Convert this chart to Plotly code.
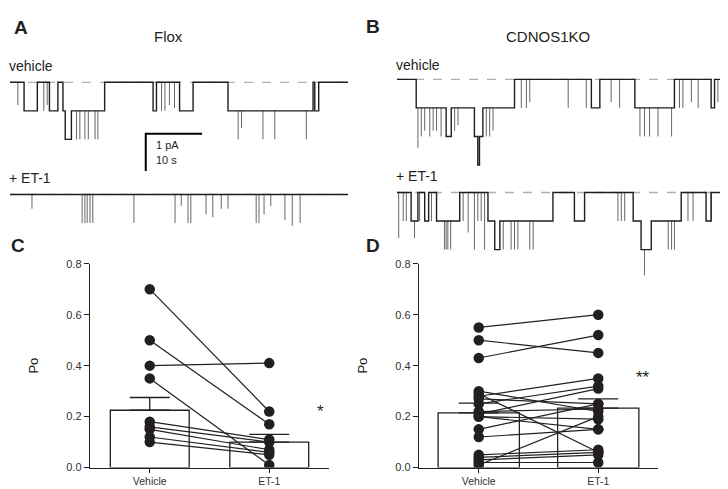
import plotly.graph_objects as go

W, H = 728, 489
FONT = "Liberation Sans, Arial, sans-serif"
INK = "#231f20"

# ---------------- single-channel traces (time in s, open-channel count n) ----------------
UNIT_PA = 0.77  # single-channel amplitude, pA

A_VEH_STEPS = [(0, 0), (2.5, 1), (4.85, 0), (7.0, 1), (8.5, 0), (9.4, 1), (9.8, 2), (10.9, 1),
               (16.8, 0), (25.4, 1), (26.0, 0), (30.1, 1), (32.5, 0), (38.7, 1), (53.8, 0),
               (54.1, 1), (54.8, 0), (60, 0)]
A_VEH_SPIKES = [(1.4, 0.8), (6.0, 1), (6.6, 0.8), (11.8, 2), (12.4, 2), (13.3, 2), (13.9, 2),
                (15.1, 2), (15.6, 2), (26.9, 1), (27.5, 1), (28.3, 0.8), (29.2, 0.9), (40.5, 2),
                (41.1, 1.6), (44.9, 2), (47.0, 2), (52.6, 2)]
A_ET1_STEPS = [(0, 0), (60, 0)]
A_ET1_SPIKES = [(3.9, 0.5), (12.8, 1), (13.3, 1), (13.7, 1), (14.2, 1), (14.7, 1), (22.0, 1),
                (29.3, 1), (30.4, 0.4), (31.6, 1), (32.1, 1), (34.8, 0.7), (36.0, 0.8),
                (37.5, 0.5), (38.7, 0.5), (43.7, 1), (44.2, 1), (45.1, 0.7), (46.3, 0.4),
                (48.8, 0.9), (50.1, 1.1), (51.5, 1)]

B_VEH_STEPS = [(0, 0), (3.4, 1), (8.7, 2), (9.6, 1), (13.7, 2), (14.3, 3), (14.6, 2), (15.2, 1),
               (20.8, 0), (34.4, 1), (35.9, 0), (42.1, 1), (49.1, 0), (55.6, 1), (56.2, 0),
               (60, 0)]
B_VEH_SPIKES = [(3.7, 2.4), (4.3, 2), (4.9, 1.8), (5.8, 2), (6.4, 1.8), (7.0, 1.8), (7.8, 2),
                (10.2, 1.8), (10.8, 1.6), (15.8, 2), (16.4, 2), (17.0, 1.8), (22.0, 1),
                (22.9, 1), (23.5, 0.8), (30.3, 1), (33.5, 1), (37.9, 0.8), (39.4, 1), (43.0, 2),
                (43.8, 2), (44.7, 2), (46.2, 2), (48.6, 2), (50.0, 1), (50.6, 1), (52.1, 0.8),
                (53.3, 1), (56.8, 0.8), (58.0, 0.6)]
B_ET1_STEPS = [(0, 0), (2.5, 1), (3.7, 0), (4.9, 1), (5.6, 0), (7.0, 1), (11.1, 0), (16.1, 1),
               (17.3, 2), (18.2, 1), (27.6, 0), (31.4, 1), (33.2, 0), (41.8, 1), (43.2, 2),
               (45.0, 1), (50.3, 0), (54.7, 1), (55.6, 0), (60, 0)]
B_ET1_SPIKES = [(0.3, 1.6), (1.1, 1), (1.65, 1), (3.1, 1.6), (4.0, 1), (6.1, 1), (8.4, 2),
                (8.7, 2), (9.0, 2), (9.5, 2), (10.5, 1), (11.7, 1), (12.6, 1.4), (13.7, 2),
                (14.3, 1), (14.9, 1), (15.5, 2), (18.8, 2), (20.2, 2), (20.8, 2), (21.4, 2),
                (23.5, 2), (24.1, 2), (32.0, 1), (32.6, 1), (39.1, 1), (39.7, 1), (40.3, 1),
                (43.8, 2.9), (48.0, 2), (48.6, 2), (49.1, 2), (51.5, 1), (52.4, 1), (55.6, 1)]

TRACE_END_S = 60
SCALE_T_S = 10
SCALE_I_PA = 1

# ---------------- open probability data ----------------
CATEGORIES = ["Vehicle", "ET-1"]
C_VEH = [0.70, 0.50, 0.40, 0.35, 0.18, 0.16, 0.15, 0.12, 0.10]
C_ET1 = [0.22, 0.17, 0.41, 0.01, 0.11, 0.10, 0.07, 0.06, 0.05]
C_MEAN = [0.225, 0.10]
C_SEM = [0.05, 0.03]

D_VEH = [0.55, 0.50, 0.43, 0.30, 0.28, 0.25, 0.21, 0.29, 0.27, 0.22, 0.20, 0.20, 0.15, 0.12,
         0.01, 0.05, 0.04, 0.03, 0.02]
D_ET1 = [0.60, 0.45, 0.52, 0.22, 0.35, 0.32, 0.31, 0.06, 0.25, 0.23, 0.19, 0.15, 0.25, 0.15,
         0.20, 0.07, 0.06, 0.05, 0.02]
D_MEAN = [0.215, 0.233]
D_SEM = [0.038, 0.037]

Y_TICKS = [0.0, 0.2, 0.4, 0.6, 0.8]


def pxx(x):
    return x / W


def pxy(y):
    return 1 - y / H


def level_at(steps, t):
    n = steps[0][1]
    for ts, ns in steps:
        if ts <= t:
            n = ns
        else:
            break
    return n


fig = go.Figure()


def add_recording(steps, spikes, offset, xa, ya):
    xs = [s[0] for s in steps]
    ys = [offset - s[1] * UNIT_PA for s in steps]
    # dashed closed-state reference line
    fig.add_trace(go.Scatter(x=[0, TRACE_END_S], y=[offset, offset], mode="lines",
                             line=dict(color="#b0b0b0", width=1.3, dash="dash"),
                             xaxis=xa, yaxis=ya, hoverinfo="skip"))
    sx, sy = [], []
    for t, d in spikes:
        base = offset - level_at(steps, t) * UNIT_PA
        sx += [t, t, None]
        sy += [base, offset - d * UNIT_PA, None]
    fig.add_trace(go.Scatter(x=sx, y=sy, mode="lines", line=dict(color="#555555", width=0.9),
                             xaxis=xa, yaxis=ya, hoverinfo="skip"))
    fig.add_trace(go.Scatter(x=xs, y=ys, mode="lines", line=dict(color="#1e1e1e", width=1.4,
                                                                 shape="hv"),
                             xaxis=xa, yaxis=ya, hoverinfo="skip"))


# panel geometry: vehicle baseline py 70 / 67, ET-1 baseline py 185 / 183, 38 px per pA
A_OFF = -(185 - 70) / 38
B_OFF = -(183 - 67) / 38
add_recording(A_VEH_STEPS, A_VEH_SPIKES, 0, "x", "y")
add_recording(A_ET1_STEPS, A_ET1_SPIKES, A_OFF, "x", "y")
add_recording(B_VEH_STEPS, B_VEH_SPIKES, 0, "x2", "y2")
add_recording(B_ET1_STEPS, B_ET1_SPIKES, B_OFF, "x2", "y2")

# scale bar in panel A
SB_T0 = 24.1
SB_I0 = -1.39
fig.add_trace(go.Scatter(x=[SB_T0, SB_T0, SB_T0 + SCALE_T_S],
                         y=[SB_I0 - SCALE_I_PA, SB_I0, SB_I0], mode="lines",
                         line=dict(color="black", width=2), xaxis="x", yaxis="y",
                         hoverinfo="skip"))


def add_po_panel(veh, et1, mean, sem, width, xa, ya):
    fig.add_trace(go.Bar(x=CATEGORIES, y=mean, width=width,
                         marker=dict(color="white", line=dict(color=INK, width=1.3)),
                         error_y=dict(type="data", array=sem, arrayminus=[0, 0],
                                      symmetric=False, color=INK, thickness=1.3, width=20),
                         xaxis=xa, yaxis=ya, hoverinfo="skip"))
    lx, ly = [], []
    for a, b in zip(veh, et1):
        lx += [CATEGORIES[0], CATEGORIES[1], None]
        ly += [a, b, None]
    fig.add_trace(go.Scatter(x=lx, y=ly, mode="lines", line=dict(color=INK, width=1.2),
                             xaxis=xa, yaxis=ya, hoverinfo="skip"))
    fig.add_trace(go.Scatter(x=[CATEGORIES[0]] * len(veh) + [CATEGORIES[1]] * len(et1),
                             y=veh + et1, mode="markers",
                             marker=dict(color=INK, size=10.5),
                             xaxis=xa, yaxis=ya, hoverinfo="skip"))


add_po_panel(C_VEH, C_ET1, C_MEAN, C_SEM, 0.66, "x3", "y3")
add_po_panel(D_VEH, D_ET1, D_MEAN, D_SEM, 0.68, "x4", "y4")

hidden = dict(visible=False, fixedrange=True)
a_top = (70 - 40) / 38
a_span = (240 - 40) / 38
b_top = (67 - 40) / 38
b_span = (280 - 40) / 38

PO_BOTTOM = 465
PO_TOP = 256
po_y = dict(range=[0, 0.8], tickvals=Y_TICKS, tickformat=".1f", ticks="outside", ticklen=5,
            tickwidth=1.3, tickcolor=INK, showline=True, linecolor=INK, linewidth=1.3,
            showgrid=False, zeroline=False, tickfont=dict(size=11, color="#333333", family=FONT),
            title=dict(text="Po", font=dict(size=13, color=INK, family=FONT), standoff=24),
            domain=[pxy(PO_BOTTOM), pxy(PO_TOP)])
po_x = dict(type="category", range=[-0.5, 1.5], ticks="outside", ticklen=4, tickwidth=1.3,
            tickcolor=INK, showline=True, linecolor=INK, linewidth=1.3, showgrid=False,
            tickfont=dict(size=10.5, color="#333333", family=FONT))

fig.update_layout(
    width=W, height=H, margin=dict(l=0, r=0, t=0, b=0), paper_bgcolor="white",
    plot_bgcolor="rgba(0,0,0,0)", showlegend=False, barmode="overlay",
    xaxis=dict(domain=[pxx(2), pxx(340)], range=[0, TRACE_END_S], **hidden),
    yaxis=dict(domain=[pxy(240), pxy(40)], range=[a_top - a_span, a_top], **hidden),
    xaxis2=dict(domain=[pxx(389), pxx(728)], range=[0, TRACE_END_S], **hidden),
    yaxis2=dict(domain=[pxy(280), pxy(40)], range=[b_top - b_span, b_top], **hidden),
    xaxis3=dict(domain=[pxx(82), pxx(321)], anchor="y3", **po_x),
    yaxis3=dict(anchor="x3", **po_y),
    xaxis4=dict(domain=[pxx(411), pxx(650)], anchor="y4", **po_x),
    yaxis4=dict(anchor="x4", **po_y),
)


def label(text, x, y, size=14, bold=False, xanchor="center"):
    fig.add_annotation(text=f"<b>{text}</b>" if bold else text, x=pxx(x), y=pxy(y),
                       xref="paper", yref="paper", showarrow=False, xanchor=xanchor,
                       yanchor="middle", font=dict(size=size, color=INK, family=FONT))


label("A", 13, 14, 19, True)
label("B", 365, 13, 19, True)
label("C", 10, 237, 19, True)
label("D", 365, 237, 19, True)
label("Flox", 160, 23, 15)
label("CDNOS1KO", 540, 23, 15)
label("vehicle", -1, 53, 14, xanchor="left")
label("+ ET-1", -1, 168, 14, xanchor="left")
label("vehicle", 386, 52, 14, xanchor="left")
label("+ ET-1", 386, 166, 14, xanchor="left")
label("*", 312, 407, 17)
label("**", 635, 373, 17)

fig.add_annotation(text="1 pA", x=25.5, y=-(134 - 70) / 38, xref="x", yref="y",
                   showarrow=False, xanchor="left", font=dict(size=11, color=INK, family=FONT))
fig.add_annotation(text="10 s", x=25.5, y=-(150 - 70) / 38, xref="x", yref="y",
                   showarrow=False, xanchor="left", font=dict(size=11, color=INK, family=FONT))

fig.write_html("out.html")
